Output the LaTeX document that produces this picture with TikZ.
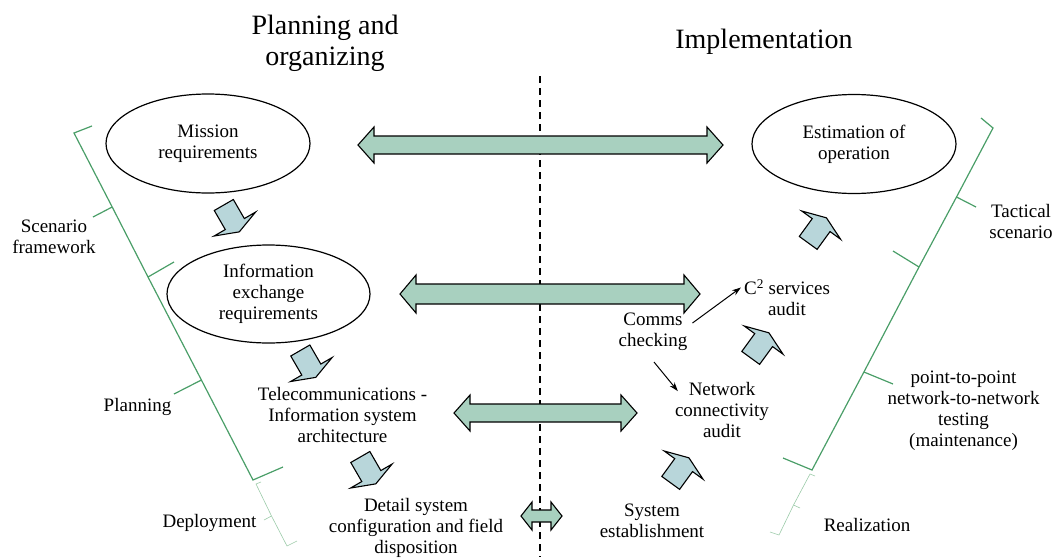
\documentclass[tikz,border=0pt]{standalone}
\usepackage{fontspec}
\setmainfont{Liberation Serif}
\usetikzlibrary{shapes.geometric,arrows.meta,calc}
\definecolor{bigfill}{HTML}{A8D0BF}
\definecolor{smallfill}{HTML}{B8D6DA}
\definecolor{brgreen}{HTML}{4A9E68}
\definecolor{brlight}{HTML}{9CCBA9}
\tikzset{
  txt/.style={font=\fontsize{19}{21}\selectfont, align=center, inner sep=0pt},
  ttl/.style={font=\fontsize{28}{31}\selectfont, align=center, inner sep=0pt},
  ell/.style={ellipse, draw=black, line width=1.2pt, minimum width=204pt, minimum height=99pt, inner sep=0pt, txt},
  bigarrow/.style={draw=black, fill=bigfill, line width=1.1pt, line join=miter},
  smallarrow/.style={draw=black, fill=smallfill, line width=1.1pt, line join=miter},
  bracket/.style={draw=brgreen, line width=1.2pt},
  thinbracket/.style={draw=brlight, line width=0.6pt},
  divider/.style={draw=black, line width=1.2pt, dash pattern=on 7pt off 5pt},
  conn/.style={draw=black, line width=1pt, -{Stealth[length=9pt,width=6pt]}},
  pics/house/.style={code={\draw[smallarrow] (0,-11) -- (22,-11) -- (22,-24) -- (31,0) -- (22,24) -- (22,11) -- (0,11) -- cycle;}}
}
\newcommand{\myDblArrow}[6]{%
  \draw[bigarrow] (#1,#3) -- ({#1+#6},{#3-#5}) -- ({#1+#6},{#3-#4}) -- ({#2-#6},{#3-#4}) -- ({#2-#6},{#3-#5}) -- (#2,#3) -- ({#2-#6},{#3+#5}) -- ({#2-#6},{#3+#4}) -- ({#1+#6},{#3+#4}) -- ({#1+#6},{#3+#5}) -- cycle;}
\begin{document}
\begin{tikzpicture}[x=1pt,y=-1pt]
\path[use as bounding box] (0,0) rectangle (1056,557);

% titles
\node[ttl] (ttlPlan) at (325,43.5) {Planning and\\organizing};
\node[ttl] (ttlImpl) at (764,41.5) {Implementation};

% divider
\coordinate (dTop) at (540,76);
\coordinate (dBot) at (540,557);
\draw[divider] (dTop) -- (dBot);

% ellipses
\node[ell] (mission) at (208,143.5) {Mission\\requirements};
\node[ell, minimum width=203pt, minimum height=98pt] (info) at (268.5,294) {Information\\exchange\\requirements};
\node[ell] (estim) at (854,144) {Estimation of\\operation};

% text nodes
\node[txt] (tele) at (342.5,415) {Telecommunications -\\Information system\\architecture};
\node[txt] (detail) at (416,528) {Detail system\\configuration and field\\disposition};
\node[txt] (comms) at (653,332) {Comms\\checking};
\node[txt] (c2) at (787,297.5) {C\textsuperscript{2} services\\audit};
\node[txt] (network) at (722,410) {Network\\connectivity\\audit};
\node[txt] (system) at (652,521) {System\\establishment};

% bracket labels
\node[txt] (scen) at (54,236.5) {Scenario\\framework};
\node[txt] (plan) at (137.5,407) {Planning};
\node[txt] (deploy) at (209.5,523) {Deployment};
\node[txt] (tact) at (1021,221) {Tactical\\scenario};
\node[txt] (p2p) at (963.5,411) {point-to-point\\network-to-network\\testing\\(maintenance)};
\node[txt] (realiz) at (867,525) {Realization};

% big double arrows
\myDblArrow{358}{723}{145}{9}{18}{16}
\myDblArrow{400}{700}{294}{10}{19}{16}
\myDblArrow{454}{637}{413}{9}{18}{16}
\myDblArrow{521}{562}{516}{6}{14}{11}

% small block arrows
\pic[rotate=-60] at (223.8,205) {house};
\pic[rotate=-60] at (300.3,350.5) {house};
\pic[rotate=-60] at (360.3,457) {house};
\pic[rotate=54] at (808.2,242.9) {house};
\pic[rotate=54] at (750.7,357.9) {house};
\pic[rotate=54] at (670.7,482.9) {house};

% thin connectors
\draw[conn] ($(comms.east)+(5,-9)$) -- ($(c2.west)+(-3,-10)$);
\draw[conn] ($(comms.south)+(1,11)$) -- ($(network.north west)+(3,9)$);

% left bracket
\draw[bracket] (92,126) -- (74,133) -- (112.2,207) -- (148,277) -- (201.4,380) -- (253,480) -- (283,467);
\draw[bracket] (112.2,207) -- (93,217);
\draw[bracket] (148,277) -- (174,262);
\draw[bracket] (201.4,380) -- (174,394);
\draw[thinbracket] (261,482) -- (256,484) -- (271.5,516) -- (287,546) -- (297,541);
\draw[thinbracket] (271.5,516) -- (264,520);

% right bracket
\draw[bracket] (981,118) -- (993,128) -- (956.5,197) -- (919,267) -- (863.9,372) -- (812,470) -- (783,458);
\draw[bracket] (956.5,197) -- (976,207);
\draw[bracket] (919,267) -- (893,251);
\draw[bracket] (863.9,372) -- (893,384);
\draw[thinbracket] (815,476) -- (810,474) -- (793.5,505) -- (779,535) -- (770,532);
\draw[thinbracket] (793.5,505) -- (800,508);
\end{tikzpicture}
\end{document}
